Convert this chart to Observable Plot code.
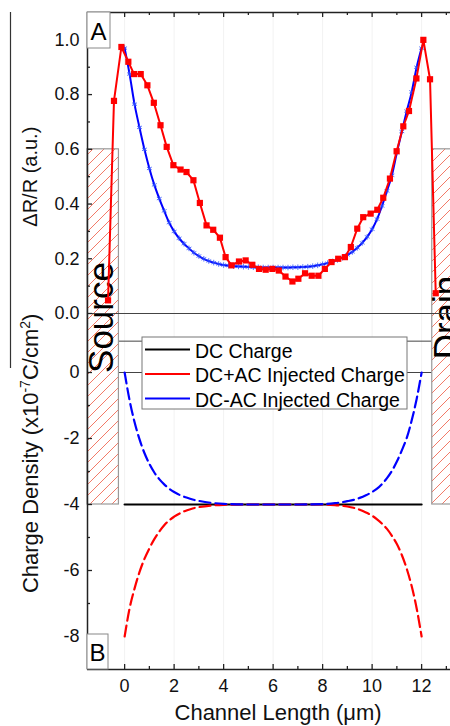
<!DOCTYPE html>
<html><head><meta charset="utf-8">
<script src="https://cdn.jsdelivr.net/npm/d3@7"></script>
<script src="https://cdn.jsdelivr.net/npm/@observablehq/plot@0.6"></script>
<style>
html,body{margin:0;padding:0;background:#fff;}
#chart{position:relative;width:450px;height:726px;overflow:hidden;background:#fff;}
#chart svg.layer{position:absolute;left:0;top:0;}
</style></head><body>
<div id="chart">
<svg width="0" height="0" style="position:absolute">
  <defs>
    <pattern id="hatch" patternUnits="userSpaceOnUse" width="11" height="11">
      <rect width="11" height="11" fill="white"/>
      <path d="M-1,1 L1,-1 M0,11 L11,0 M10,12 L12,10" stroke="#f27a68" stroke-width="1" fill="none"/>
    </pattern>
  </defs>
</svg>
</div>
<script>
// ---------- data ----------
// Panel A: measured ΔR/R (red squares)
const redX = [-0.67,-0.43,-0.13,0.15,0.38,0.65,0.92,1.18,1.45,1.70,1.97,2.26,2.50,2.78,3.04,3.31,3.58,3.85,4.08,4.32,4.62,4.89,5.16,5.43,5.70,5.97,6.23,6.50,6.78,7.02,7.29,7.56,7.83,8.09,8.36,8.63,8.90,9.14,9.40,9.64,9.94,10.21,10.45,10.72,10.99,11.26,11.49,11.79,12.07,12.34,12.57];
const redY = [0.048,0.777,0.974,0.92,0.875,0.875,0.834,0.77,0.688,0.609,0.542,0.526,0.517,0.487,0.404,0.322,0.306,0.277,0.206,0.176,0.19,0.194,0.178,0.163,0.16,0.163,0.157,0.135,0.117,0.127,0.147,0.138,0.138,0.163,0.188,0.2,0.206,0.243,0.31,0.352,0.365,0.379,0.423,0.493,0.593,0.684,0.74,0.859,1.0,0.856,0.074];
// Panel A: simulated ΔR/R (blue stars)
const blueX = [0,0.2,0.4,0.6,0.8,1.0,1.2,1.4,1.6,1.8,2.0,2.2,2.4,2.6,2.8,3.0,3.2,3.4,3.6,3.8,4.0,4.2,4.4,4.6,4.8,5.0,5.2,5.4,5.6,5.8,6.0,6.2,6.4,6.6,6.8,7.0,7.2,7.4,7.6,7.8,8.0,8.2,8.4,8.6,8.8,9.0,9.2,9.4,9.6,9.8,10.0,10.2,10.4,10.6,10.8,11.0,11.2,11.4,11.6,11.8,12.0];
const blueY = [0.97,0.875,0.765,0.68,0.60,0.53,0.47,0.42,0.375,0.332,0.30,0.275,0.255,0.238,0.222,0.21,0.20,0.192,0.186,0.181,0.177,0.175,0.173,0.172,0.171,0.170,0.169,0.169,0.168,0.168,0.168,0.168,0.168,0.168,0.169,0.169,0.170,0.171,0.173,0.176,0.180,0.184,0.190,0.196,0.204,0.214,0.225,0.240,0.258,0.280,0.308,0.345,0.393,0.448,0.505,0.588,0.665,0.74,0.81,0.90,0.97];
// Panel B: charge density
const dcX = [0, 12];
const dcY = [-4, -4];
const injX = [0,0.2,0.4,0.6,0.8,1.0,1.2,1.4,1.6,1.8,2.0,2.25,2.5,2.75,3.0,3.5,4.0,5.0,6.0,7.0,8.0,8.5,9.0,9.25,9.5,9.75,10.0,10.2,10.4,10.6,10.8,11.0,11.2,11.4,11.6,11.8,12.0];
const dcMinusAcY = [0,-0.84,-1.50,-2.02,-2.44,-2.77,-3.03,-3.23,-3.39,-3.52,-3.62,-3.72,-3.79,-3.85,-3.89,-3.95,-3.98,-4.0,-4.0,-4.0,-3.99,-3.96,-3.9,-3.86,-3.8,-3.72,-3.62,-3.52,-3.38,-3.2,-2.98,-2.70,-2.36,-1.98,-1.45,-0.8,0];
const dcPlusAcY = [-8,-7.15,-6.55,-6.05,-5.65,-5.33,-5.05,-4.82,-4.63,-4.48,-4.37,-4.26,-4.18,-4.12,-4.08,-4.03,-4.01,-4.0,-4.0,-4.0,-4.0,-4.02,-4.06,-4.1,-4.16,-4.24,-4.34,-4.45,-4.58,-4.74,-4.95,-5.2,-5.53,-5.95,-6.48,-7.15,-8];
// contacts (source / drain)
const contactNames = ["Source", "Drain"];
const contactStart = [-1.5, 12.43];
const contactEnd = [-0.23, 13.6];
const contactTopA = 0.6;     // in panel A units
const contactBottomB = -4;   // in panel B units
// legend
const legendLabels = ["DC Charge", "DC+AC Injected Charge", "DC-AC Injected Charge"];
const legendColors = ["#000000", "#ff0000", "#0000ff"];
// ticks
const xMajor = [0,2,4,6,8,10,12];
const xMinor = [1,3,5,7,9,11,13];
const yAMajor = [0,0.2,0.4,0.6,0.8,1.0];
const yAMinor = [0.1,0.3,0.5,0.7,0.9];
const yBMajor = [-8,-6,-4,-2,0];
const yBMinor = [-7,-5,-3,-1];
const frameLinesB = [0.95, 0];
const xTitle = "Channel Length (μm)";
const yTitleA = "ΔR/R (a.u.)";
const yTitleB = "Charge Density (x10-7C/cm2)";

// ---------- tables ----------
const red = redX.map((x, i) => ({x, y: redY[i]}));
const blue = blueX.map((x, i) => ({x, y: blueY[i]}));
const dc = dcX.map((x, i) => ({x, y: dcY[i]}));
const dcPlus = injX.map((x, i) => ({x, y: dcPlusAcY[i]}));
const dcMinus = injX.map((x, i) => ({x, y: dcMinusAcY[i]}));
const contacts = contactNames.map((name, i) => ({name, x1: contactStart[i], x2: contactEnd[i]}));

// ---------- layout ----------
const FONT = '"Liberation Sans", Arial, Helvetica, sans-serif';
const W = 450, H = 726;
const xOpts = {type: "linear", domain: [-1.5, 13.167], range: [87, 450]};
const yAOpts = {type: "linear", domain: [0, 1.1], range: [313, 12]};
const yBOpts = {type: "linear", domain: [-9, 0], range: [669, 372]};
const yA = Plot.scale({y: yAOpts});
const yB = Plot.scale({y: yBOpts});
const aInB = v => yB.invert(yA.apply(v));
const common = {width: W, height: H, marginLeft: 87, marginRight: 0, marginTop: 12, marginBottom: 57};
const AX = "#222";
const NS = "http://www.w3.org/2000/svg";
function el(tag, attrs, text) {
  const e = document.createElementNS(NS, tag);
  for (const k in attrs) e.setAttribute(k, attrs[k]);
  if (text != null) e.textContent = text;
  return e;
}
function boxLabel(txt, x, y, w, h) {
  return () => {
    const g = el("g", {});
    g.appendChild(el("rect", {x, y, width: w, height: h, fill: "white", stroke: "#888", "stroke-width": 1}));
    g.appendChild(el("text", {x: x + w / 2, y: y + h / 2 + 1, "text-anchor": "middle", "dominant-baseline": "central", "font-size": 24, fill: "black"}, txt));
    return g;
  };
}
function legend() {
  const g = el("g", {});
  g.appendChild(el("rect", {x: 142, y: 337, width: 265, height: 72, fill: "white", stroke: "#777", "stroke-width": 1}));
  legendLabels.forEach((lab, i) => {
    const cy = 349.5 + i * 24.5;
    g.appendChild(el("line", {x1: 145, x2: 190, y1: cy, y2: cy, stroke: legendColors[i], "stroke-width": 2}));
    g.appendChild(el("text", {x: 195, y: cy + 1, "text-anchor": "start", "dominant-baseline": "central", "font-size": 19.5, fill: "black"}, lab));
  });
  return g;
}

// ---------- bottom layer (panel B + shared frame) ----------
const plotB = Plot.plot({
  ...common,
  style: {fontFamily: FONT, background: "transparent"},
  x: {...xOpts, axis: null},
  y: {...yBOpts, axis: null},
  marks: [
    Plot.ruleX(xMajor, {x: d => d, y1: -9, y2: aInB(1.1), stroke: "#f2f2f2", strokeWidth: 1}),
    Plot.ruleY(frameLinesB, {y: d => d, x1: -1.5, x2: 12.43, stroke: "#444", strokeWidth: 1}),
    Plot.rect(contacts, {x1: "x1", x2: "x2", y1: contactBottomB, y2: aInB(contactTopA), fill: "url(#hatch)", stroke: "#999", strokeWidth: 1.2}),
    Plot.line(dc, {x: "x", y: "y", stroke: "#000", strokeWidth: 2.2}),
    Plot.line(dcPlus, {x: "x", y: "y", stroke: "#ff0000", strokeWidth: 2.2, strokeDasharray: "11,5", curve: "monotone-x"}),
    Plot.line(dcMinus, {x: "x", y: "y", stroke: "#0000ff", strokeWidth: 2.2, strokeDasharray: "11,5", curve: "monotone-x"}),
    Plot.ruleX([-1.5], {x: d => d, y1: -9, y2: aInB(1.1), stroke: AX, strokeWidth: 1.5}),
    Plot.ruleY([-9], {y: d => d, x1: -1.5, x2: 13.167, stroke: AX, strokeWidth: 1.5}),
    Plot.ruleX(xMajor, {x: d => d, y1: -9, y2: -9, insetTop: -5, stroke: AX, strokeWidth: 1.3}),
    Plot.ruleX(xMinor, {x: d => d, y1: -9, y2: -9, insetTop: -3, stroke: AX, strokeWidth: 1.3}),
    Plot.ruleY(yBMajor, {y: d => d, x1: -1.5, x2: -1.5, insetRight: -5, stroke: AX, strokeWidth: 1.3}),
    Plot.ruleY(yBMinor, {y: d => d, x1: -1.5, x2: -1.5, insetRight: -3, stroke: AX, strokeWidth: 1.3}),
    Plot.text(xMajor, {x: d => d, y: -9, dy: 17, text: d => String(d), fontSize: 18, fill: "#111"}),
    Plot.text(yBMajor, {x: -1.5, y: d => d, dx: -8, textAnchor: "end", text: d => String(d), fontSize: 18, fill: "#111"}),
    Plot.text([yTitleB], {x: -1.5, y: -2.45, dx: -57, rotate: -90, text: d => d, fontSize: 22, fill: "#111"}),
    Plot.text([xTitle], {x: 6.2, y: -9, dy: 43, text: d => d, fontSize: 22, fill: "#111"}),
    legend,
    boxLabel("B", 87, 634, 21, 35),
    () => el("line", {x1: 10.5, x2: 10.5, y1: 12, y2: 368, stroke: "#333", "stroke-width": 1.2})
  ]
});

// ---------- top layer (panel A) ----------
const plotA = Plot.plot({
  ...common,
  style: {fontFamily: FONT, background: "transparent"},
  x: {...xOpts, axis: null},
  y: {...yAOpts, axis: null},
  marks: [
    Plot.text(contacts, {x: "x1", y: 0, dx: 14.5, dy: 4, rotate: -90, text: "name", fontSize: 35, fill: "#000"}),
    Plot.ruleY([1.1], {y: d => d, x1: -1.5, x2: 13.167, stroke: AX, strokeWidth: 1.5}),
    Plot.ruleY([0], {y: d => d, x1: -1.5, x2: 13.167, stroke: "#444", strokeWidth: 1.2}),
    Plot.ruleX(xMajor, {x: d => d, y1: 1.1, y2: 1.1, insetBottom: -5, stroke: AX, strokeWidth: 1.3}),
    Plot.ruleX(xMinor, {x: d => d, y1: 1.1, y2: 1.1, insetBottom: -3, stroke: AX, strokeWidth: 1.3}),
    Plot.ruleY(yAMajor, {y: d => d, x1: -1.5, x2: -1.5, insetRight: -5, stroke: AX, strokeWidth: 1.3}),
    Plot.ruleY(yAMinor, {y: d => d, x1: -1.5, x2: -1.5, insetRight: -3, stroke: AX, strokeWidth: 1.3}),
    Plot.text(yAMajor, {x: -1.5, y: d => d, dx: -8, textAnchor: "end", text: d => d.toFixed(1), fontSize: 18, fill: "#111"}),
    Plot.text([yTitleA], {x: -1.5, y: 0.5, dx: -57, rotate: -90, text: d => d, fontSize: 20, fill: "#111"}),
    Plot.line(blue, {x: "x", y: "y", stroke: "#0000ff", strokeWidth: 2, curve: "monotone-x"}),
    Plot.dot(blue, {x: "x", y: "y", symbol: "asterisk", r: 2.6, stroke: "#2a4dff", strokeWidth: 0.8}),
    Plot.line(red, {x: "x", y: "y", stroke: "#ff0000", strokeWidth: 2}),
    Plot.dot(red, {x: "x", y: "y", symbol: "square", r: 3.5, fill: "#ff0000", stroke: "none"}),
    boxLabel("A", 87, 12, 23, 36)
  ]
});

// superscripts in panel B title
for (const t of plotB.querySelectorAll("text")) {
  if (t.textContent === yTitleB) {
    t.textContent = "";
    const parts = [["Charge Density (x10", 0], ["-7", 1], ["C/cm", 0], ["2", 1], [")", 0]];
    let shifted = false;
    for (const [s, sup] of parts) {
      const ts = el("tspan", {}, s);
      if (sup) { ts.setAttribute("font-size", "14"); ts.setAttribute("dy", "-8"); shifted = true; }
      else if (shifted) { ts.setAttribute("dy", "8"); shifted = false; }
      t.appendChild(ts);
    }
  }
}

plotB.classList.add("layer");
plotA.classList.add("layer");
const chartDiv = document.getElementById("chart");
chartDiv.appendChild(plotB);
chartDiv.appendChild(plotA);
</script>
</body></html>
